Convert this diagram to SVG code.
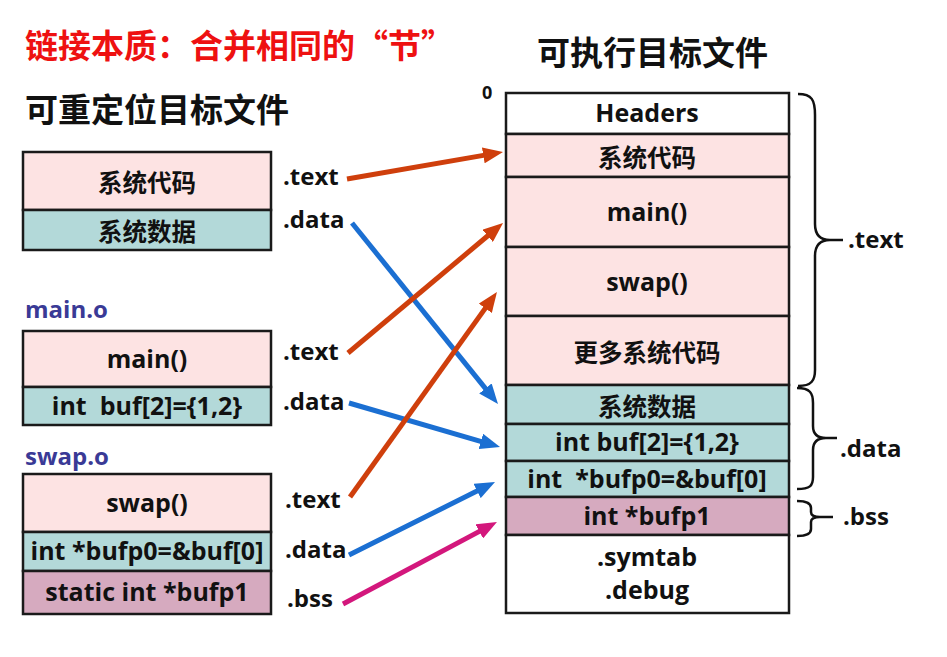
<svg xmlns="http://www.w3.org/2000/svg" width="947" height="657" viewBox="0 0 947 657">
<defs>
<style>
text{font-family:"Open Sans","Noto Sans CJK SC",sans-serif;font-weight:bold;fill:#111;}
.c{text-anchor:middle;dominant-baseline:central;font-size:25px;}
.z{font-family:"Noto Sans CJK SC",sans-serif;font-size:24.5px;}
.lbl{font-size:24px;}
.title{font-family:"Noto Sans CJK SC",sans-serif;font-size:33px;}
.obj{font-size:24px;fill:#3a3a96;}
.box{stroke:#1a1a1a;stroke-width:2.5;}
.pk{fill:#fde3e3;}
.tl{fill:#b3d9d9;}
.bs{fill:#d6aabf;}
.wh{fill:#ffffff;}
.br{fill:none;stroke:#111;stroke-width:2.5;}
.ar{fill:none;stroke-width:5;}
</style>
<marker id="mo" markerUnits="userSpaceOnUse" markerWidth="20" markerHeight="16" viewBox="0 0 20 16" refX="6" refY="8" orient="auto"><path d="M0,0 L20,8 L0,16 z" fill="#cf3f0c"/></marker>
<marker id="mb" markerUnits="userSpaceOnUse" markerWidth="20" markerHeight="16" viewBox="0 0 20 16" refX="6" refY="8" orient="auto"><path d="M0,0 L20,8 L0,16 z" fill="#1b6fd2"/></marker>
<marker id="mm" markerUnits="userSpaceOnUse" markerWidth="20" markerHeight="16" viewBox="0 0 20 16" refX="6" refY="8" orient="auto"><path d="M0,0 L20,8 L0,16 z" fill="#d3177c"/></marker>
</defs>
<rect width="947" height="657" fill="#ffffff"/>

<g id="titles">
<text class="title" x="25" y="58" style="fill:#ee1111">链接本质：合并相同的“节”</text>
<text class="title" x="25" y="122">可重定位目标文件</text>
<text class="title" x="537" y="65">可执行目标文件</text>
<text class="lbl" x="482" y="99" style="font-size:18px">0</text>
<text class="obj" x="25" y="318">main.o</text>
<text class="obj" x="25" y="465">swap.o</text>
</g>

<g id="sys-obj">
<rect class="box pk" x="23" y="152" width="248" height="58"/>
<rect class="box tl" x="23" y="210" width="248" height="40"/>
<text class="c z" x="147" y="181">系统代码</text>
<text class="c z" x="147" y="230">系统数据</text>
<text class="lbl" x="283" y="185">.text</text>
<text class="lbl" x="283" y="228">.data</text>
</g>

<g id="main-obj">
<rect class="box pk" x="23" y="331" width="248" height="56"/>
<rect class="box tl" x="23" y="387" width="248" height="38"/>
<text class="c" x="147" y="358">main()</text>
<text class="c" x="147" y="405">int&#160; buf[2]={1,2}</text>
<text class="lbl" x="283" y="360">.text</text>
<text class="lbl" x="283" y="410">.data</text>
</g>

<g id="swap-obj">
<rect class="box pk" x="23" y="474" width="248" height="58"/>
<rect class="box tl" x="23" y="532" width="248" height="39"/>
<rect class="box bs" x="23" y="571" width="248" height="43"/>
<text class="c" x="147" y="502">swap()</text>
<text class="c" x="147" y="550">int *bufp0=&amp;buf[0]</text>
<text class="c" x="147" y="591">static int *bufp1</text>
<text class="lbl" x="285" y="508">.text</text>
<text class="lbl" x="285" y="558">.data</text>
<text class="lbl" x="287" y="607">.bss</text>
</g>

<g id="exe">
<rect class="box wh" x="506" y="93" width="283" height="41"/>
<rect class="box pk" x="506" y="134" width="283" height="43"/>
<rect class="box pk" x="506" y="177" width="283" height="70"/>
<rect class="box pk" x="506" y="247" width="283" height="69"/>
<rect class="box pk" x="506" y="316" width="283" height="69"/>
<rect class="box tl" x="506" y="385" width="283" height="39"/>
<rect class="box tl" x="506" y="424" width="283" height="37"/>
<rect class="box tl" x="506" y="461" width="283" height="36"/>
<rect class="box bs" x="506" y="497" width="283" height="38"/>
<rect class="box wh" x="506" y="535" width="283" height="78"/>
<text class="c" x="647" y="112">Headers</text>
<text class="c z" x="647" y="156">系统代码</text>
<text class="c" x="647" y="211">main()</text>
<text class="c" x="647" y="281">swap()</text>
<text class="c z" x="647" y="351">更多系统代码</text>
<text class="c z" x="647" y="405">系统数据</text>
<text class="c" x="647" y="441">int buf[2]={1,2}</text>
<text class="c" x="647" y="478">int&#160; *bufp0=&amp;buf[0]</text>
<text class="c" x="647" y="515">int *bufp1</text>
<text class="c" x="647" y="556">.symtab</text>
<text class="c" x="647" y="589">.debug</text>
</g>

<g id="braces">
<path class="br" d="M798,94 C812,94 815,100 815,115 L815,224 C815,234 820,240 830,240 L843,240 M830,240 C820,240 815,246 815,256 L815,370 C815,380 812,386 798,386"/>
<path class="br" d="M797,388 C810,388 813,393 813,403 L813,426 C813,434 818,438 826,438 L837,438 M826,438 C818,438 813,442 813,450 L813,477 C813,486 810,489 797,489"/>
<path class="br" d="M797,501 C807,501 811,503 811,508 L811,512 C811,515 814,517 820,517 L833,517 M820,517 C814,517 811,519 811,522 L811,529 C811,534 807,536 797,536"/>
<text class="lbl" x="848" y="248">.text</text>
<text class="lbl" x="840" y="457">.data</text>
<text class="lbl" x="843" y="525">.bss</text>
</g>

<g id="connectors">
<line class="ar" x1="347" y1="179" x2="489.2" y2="154.4" stroke="#cf3f0c" marker-end="url(#mo)"/>
<line class="ar" x1="352" y1="223" x2="489.2" y2="393.1" stroke="#1b6fd2" marker-end="url(#mb)"/>
<line class="ar" x1="348" y1="353" x2="492.3" y2="232" stroke="#cf3f0c" marker-end="url(#mo)"/>
<line class="ar" x1="349" y1="403" x2="486.6" y2="443.1" stroke="#1b6fd2" marker-end="url(#mb)"/>
<line class="ar" x1="350" y1="497" x2="488.8" y2="303.4" stroke="#cf3f0c" marker-end="url(#mo)"/>
<line class="ar" x1="349" y1="555" x2="482.5" y2="488.3" stroke="#1b6fd2" marker-end="url(#mb)"/>
<line class="ar" x1="343" y1="604" x2="484.6" y2="528.6" stroke="#d3177c" marker-end="url(#mm)"/>
</g>
</svg>
